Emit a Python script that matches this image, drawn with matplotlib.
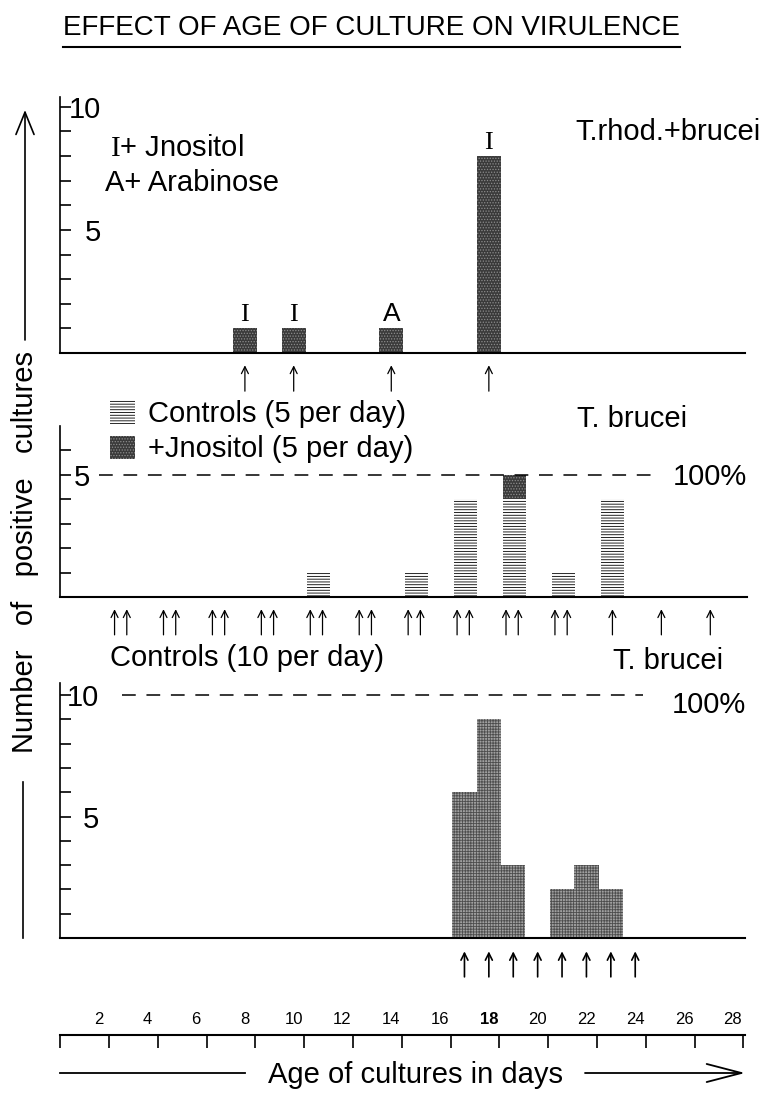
import numpy as np
import matplotlib
matplotlib.use("Agg")
import matplotlib.pyplot as plt
from matplotlib import font_manager
from matplotlib.lines import Line2D

# data (days, counts)
top_days = [8, 10, 14, 18]
top_counts = [1, 1, 1, 8]
top_marks = ["I", "I", "A", "I"]
top_arrow_days = [8, 10, 14, 18]

mid_days = [11, 15, 17, 19, 21, 23]
mid_controls = [1, 1, 4, 4, 1, 4]
mid_inositol = [0, 0, 0, 1, 0, 0]
mid_pair_days = [3, 5, 7, 9, 11, 13, 15, 17, 19, 21]
mid_single_days = [23, 25, 27]

bot_days = [17, 18, 19, 21, 22, 23]
bot_controls = [6, 9, 3, 2, 3, 2]
bot_arrow_days = [17, 18, 19, 20, 21, 22, 23, 24]

day_labels = list(range(2, 29, 2))
scale_ticks = np.arange(0.43, 28.6, 2)

W, H = 763, 1093
plt.rcParams["font.family"] = ["Liberation Sans", "DejaVu Sans"]
plt.rcParams["mathtext.fontset"] = "custom"
plt.rcParams["mathtext.rm"] = "Liberation Serif"
plt.rcParams["hatch.linewidth"] = 0.6

# narrow face for the title if there is one
installed = {f.name for f in font_manager.fontManager.ttflist}
if "Liberation Sans Narrow" in installed:
    title_font, title_size = "Liberation Sans Narrow", 24
else:
    title_font, title_size = "Liberation Sans", 20

fig = plt.figure(figsize=(W / 100, H / 100), dpi=100)

def fx(x):
    return x / W

def fy(y):
    return 1 - y / H

def add_ax(left, top, right, bottom):
    return fig.add_axes([fx(left), fy(bottom), (right - left) / W, (bottom - top) / H])

XLIM = (0.42, 28.5)
FS = 21
DARK = dict(color="#3a3a3a", hatch="......", edgecolor="#8c8c8c", linewidth=0)

def style_panel(ax, ymax, ticks, labels, pad):
    ax.set_xlim(XLIM)
    ax.set_ylim(0, ymax)
    for s in ["top", "right"]:
        ax.spines[s].set_visible(False)
    ax.spines["left"].set_linewidth(1.2)
    ax.spines["bottom"].set_linewidth(1.5)
    ax.set_xticks([])
    ax.set_yticks(ticks)
    ax.set_yticklabels(labels)
    ax.tick_params(axis="y", direction="in", length=8, width=1.2, pad=pad, labelsize=FS)
    ax.patch.set_visible(False)

def arrows(ax, days, lw=0.9, y0=-1.55, y1=-0.5):
    for d in days:
        ax.annotate("", xy=(d, y1), xytext=(d, y0), annotation_clip=False,
                    arrowprops=dict(arrowstyle="->,head_length=0.5,head_width=0.25",
                                    lw=lw, color="black", shrinkA=0, shrinkB=0))

# --- top panel
ax1 = add_ax(60, 97, 745, 353)
style_panel(ax1, 10.4, range(1, 11), [""] * 4 + ["5"] + [""] * 4 + ["10"], -29.5)
ax1.bar(top_days, top_counts, width=0.98, **DARK)
for d, c, m in zip(top_days, top_counts, top_marks):
    fam = ["Liberation Serif", "DejaVu Serif"] if m == "I" else None
    ax1.text(d, c + 0.1, m, ha="center", va="bottom", fontsize=19, family=fam)
arrows(ax1, top_arrow_days)
fig.text(fx(110), fy(148), r"$\mathrm{I}$+ Jnositol", fontsize=FS, va="center")
fig.text(fx(105), fy(183), "A+ Arabinose", fontsize=FS, va="center")
fig.text(fx(761), fy(132), "T.rhod.+brucei", fontsize=FS, va="center", ha="right")

# --- middle panel
ax2 = add_ax(60, 426, 747, 597)
style_panel(ax2, 7.0, range(1, 7), [""] * 4 + ["5", ""], -21.5)
ctrl = ax2.bar(mid_days, mid_controls, width=0.95, color="white", hatch="------",
               edgecolor="black", linewidth=0, label="Controls (5 per day)")
ino = ax2.bar(mid_days, mid_inositol, bottom=mid_controls, width=0.95,
              label="+Jnositol (5 per day)", **DARK)
ax2.plot([2.0, 24.9], [5, 5], ls=(0, (9, 7)), color="black", lw=1.1)
arrows(ax2, [d - 0.1 - 0.25 for d in mid_pair_days] + [d - 0.1 + 0.25 for d in mid_pair_days] + mid_single_days)
ax2.legend(handles=[ctrl, ino], loc="upper left", bbox_to_anchor=(fx(110), fy(400)),
           bbox_transform=fig.transFigure, frameon=False, fontsize=FS,
           handlelength=0.85, handleheight=0.85, handletextpad=0.45,
           labelspacing=0.25, borderpad=0, borderaxespad=0)
fig.text(fx(577), fy(419), "T. brucei", fontsize=FS, va="center")
fig.text(fx(673), fy(477), "100%", fontsize=FS, va="center")

# --- bottom panel
ax3 = add_ax(60, 683, 745, 938)
style_panel(ax3, 10.5, range(1, 11), [""] * 4 + ["5"] + [""] * 4 + ["10"], -28)
ax3.bar(bot_days, bot_controls, width=1.0, color="#a0a0a0", hatch="++++++",
        edgecolor="#4d4d4d", linewidth=0)
ax3.plot([2.96, 24.3], [10, 10], ls=(0, (9, 7)), color="black", lw=1.1)
arrows(ax3, bot_arrow_days, lw=1.2, y0=-1.6, y1=-0.55)
fig.text(fx(110), fy(658), "Controls (10 per day)", fontsize=FS, va="center")
fig.text(fx(613), fy(661), "T. brucei", fontsize=FS, va="center")
fig.text(fx(672), fy(705), "100%", fontsize=FS, va="center")

# --- day scale
ax4 = add_ax(60, 1035, 745, 1050)
ax4.set_xlim(XLIM)
for s in ["bottom", "left", "right"]:
    ax4.spines[s].set_visible(False)
ax4.spines["top"].set_linewidth(1.5)
ax4.patch.set_visible(False)
ax4.set_yticks([])
ax4.set_xticks(scale_ticks)
ax4.set_xticks(day_labels, labels=[str(d) for d in day_labels], minor=True)
ax4.tick_params(axis="x", which="major", top=True, bottom=False, direction="in",
                length=9.5, width=1.2, labeltop=False, labelbottom=False)
ax4.tick_params(axis="x", which="minor", top=True, bottom=False, length=0,
                labeltop=True, labelbottom=False, labelsize=12, pad=6)
for lab in ax4.get_xticklabels(minor=True):
    if lab.get_text() == "18":
        lab.set_fontweight("bold")

fig.text(fx(415), fy(1075), "Age of cultures in days", fontsize=FS, ha="center", va="center")
fig.add_artist(Line2D([fx(60), fx(245)], [fy(1073)] * 2, color="black", lw=1.3))
ax4.annotate("", xy=(745, H - 1073), xytext=(585, H - 1073), xycoords="figure pixels",
             arrowprops=dict(arrowstyle="->,head_length=2.5,head_width=0.65", lw=1.3,
                             color="black", shrinkA=0, shrinkB=0))

# --- y label with arrow and line
fig.text(fx(25), fy(552), "Number   of   positive   cultures", rotation=90,
         fontsize=FS, ha="center", va="center")
ax4.annotate("", xy=(25, H - 110), xytext=(25, H - 340), xycoords="figure pixels",
             arrowprops=dict(arrowstyle="->,head_length=1.6,head_width=0.65", lw=1.2,
                             color="black", shrinkA=0, shrinkB=0))
fig.add_artist(Line2D([fx(23), fx(23)], [fy(782), fy(938)], color="black", lw=1.2))

# --- title with underline
title = fig.text(fx(63), fy(35), "EFFECT OF AGE OF CULTURE ON VIRULENCE",
                 fontsize=title_size, family=title_font, va="baseline")
fig.canvas.draw()
bb = title.get_window_extent(renderer=fig.canvas.get_renderer())
fig.add_artist(Line2D([fx(63), bb.x1 / W], [fy(47)] * 2, color="black", lw=1.5))

fig.savefig("out.png", dpi=100)
